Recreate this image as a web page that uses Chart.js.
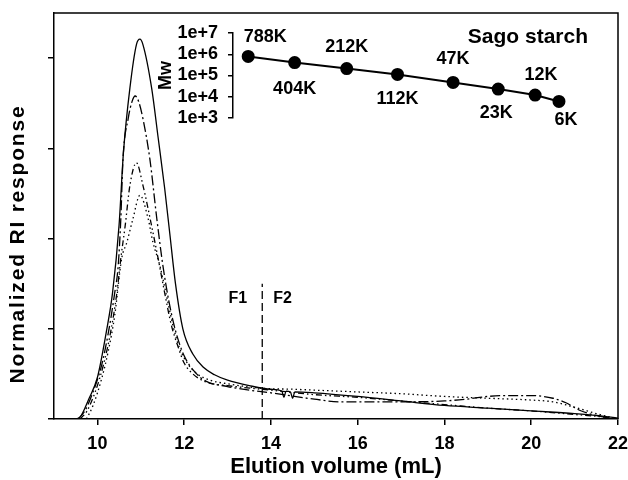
<!DOCTYPE html>
<html>
<head>
<meta charset="utf-8">
<script src="https://cdn.jsdelivr.net/npm/chart.js@4.4.1/dist/chart.umd.min.js"></script>
<style>
    body { margin: 0; background: #fff; }
    #wrap { position: relative; width: 628px; height: 480px; }
    #inset { position: absolute; left: 0; top: 0; pointer-events: none; }
</style>
</head>
<body>
<div id="wrap">
    <canvas id="main" width="628" height="480"></canvas>
    <canvas id="inset" width="628" height="140"></canvas>
</div>
<script>
/* RI traces (elution volume in mL, normalized response) */
const solidX = [9.5, 9.6, 9.8, 10.0, 10.2, 10.35, 10.5, 10.6, 10.75, 10.9, 10.98, 11.05, 11.25, 11.4, 11.55, 11.67, 11.8, 11.97, 12.2, 12.45, 12.7, 13.0, 13.5, 14.0, 14.25, 14.3, 14.35, 14.45, 14.5, 14.55, 15.0, 16.0, 17.0, 18.0, 19.0, 20.0, 21.0, 21.5, 22.0];
const solidY = [0, 0.02, 0.22, 0.46, 0.95, 1.4, 2.15, 2.95, 3.67, 4.15, 4.21, 4.15, 3.67, 3.12, 2.56, 2.05, 1.5, 1.0, 0.72, 0.57, 0.49, 0.43, 0.37, 0.33, 0.31, 0.24, 0.31, 0.30, 0.23, 0.30, 0.29, 0.25, 0.2, 0.15, 0.12, 0.09, 0.06, 0.04, 0.01];

const dashDotX = [9.55, 9.7, 9.9, 10.1, 10.25, 10.4, 10.48, 10.54, 10.59, 10.71, 10.8, 10.87, 10.95, 11.05, 11.21, 11.37, 11.51, 11.65, 11.8, 12.0, 12.25, 12.5, 13.0, 13.5, 14.0, 15.0, 15.6, 16.0, 17.0, 18.0, 18.5, 19.0, 19.5, 20.0, 20.5, 20.8, 21.1, 21.4, 21.7, 22.0];
const dashDotY = [0, 0.08, 0.3, 0.6, 0.95, 1.4, 1.7, 2.22, 2.88, 3.33, 3.52, 3.58, 3.52, 3.33, 2.88, 2.22, 1.7, 1.3, 0.98, 0.7, 0.52, 0.42, 0.36, 0.32, 0.29, 0.22, 0.19, 0.19, 0.19, 0.2, 0.22, 0.25, 0.26, 0.26, 0.23, 0.18, 0.1, 0.05, 0.02, 0];

const dashDotDotX = [9.6, 9.75, 9.95, 10.15, 10.3, 10.45, 10.54, 10.64, 10.75, 10.9, 11.05, 11.25, 11.4, 11.55, 11.7, 11.86, 12.0, 12.2, 12.5, 13.0, 14.0, 15.0, 16.0, 17.0, 18.0, 19.0, 20.0, 21.0, 21.5, 22.0];
const dashDotDotY = [0, 0.08, 0.3, 0.62, 0.95, 1.4, 1.78, 2.14, 2.59, 2.84, 2.59, 2.14, 1.78, 1.4, 1.05, 0.8, 0.62, 0.5, 0.41, 0.37, 0.32, 0.27, 0.24, 0.2, 0.16, 0.12, 0.09, 0.05, 0.03, 0];

const dottedX = [9.75, 9.9, 10.1, 10.25, 10.4, 10.56, 10.68, 10.82, 10.98, 11.17, 11.28, 11.44, 11.6, 11.75, 11.9, 12.1, 12.3, 12.6, 13.0, 13.8, 14.5, 15.0, 16.0, 17.0, 18.0, 19.0, 20.0, 20.5, 21.0, 21.5, 21.9];
const dottedY = [0, 0.15, 0.45, 0.75, 1.15, 1.78, 1.96, 2.22, 2.48, 2.22, 1.96, 1.7, 1.35, 1.02, 0.78, 0.6, 0.5, 0.43, 0.39, 0.34, 0.33, 0.32, 0.30, 0.28, 0.25, 0.23, 0.21, 0.19, 0.13, 0.06, 0.01];

const xTicks = [10, 12, 14, 16, 18, 20, 22];
const yTicks = [0, 1, 2, 3, 4];

// F1 / F2 split
const splitX = 13.8;
const splitTop = 1.5;

/* Inset: Mw of the standards vs elution volume */
const stdLabels = ['788K', '404K', '212K', '112K', '47K', '23K', '12K', '6K'];
const stdVolume = [13.48, 14.55, 15.75, 16.92, 18.2, 19.24, 20.09, 20.64];
const stdMw = [788000, 404000, 212000, 112000, 47000, 23000, 12000, 6000];
const mwTicks = [1e3, 1e4, 1e5, 1e6, 1e7];

// where each standard label sits relative to its dot (px)
const labelDx = [17, 0, 0, 0, 0, -2, 6, 7];
const labelDy = [-19, 26, -22, 25, -23, 24, -20, 19];

const FONT = '"Liberation Sans", Arial, Helvetica, sans-serif';
Chart.defaults.font.family = FONT;
Chart.defaults.color = '#000';

function pts(xs, ys) {
    return xs.map((x, i) => ({ x: x, y: ys[i] }));
}

function trace(xs, ys, dash) {
    return {
        data: pts(xs, ys),
        borderColor: '#000',
        borderWidth: 1.3,
        borderDash: dash,
        pointRadius: 0,
        cubicInterpolationMode: 'monotone',
        fill: false
    };
}

const mainDecor = {
    id: 'mainDecor',
    afterDraw(chart) {
        const ctx = chart.ctx;
        const a = chart.chartArea;
        ctx.save();
        // top and right frame
        ctx.strokeStyle = '#000';
        ctx.lineWidth = 1.5;
        ctx.beginPath();
        ctx.moveTo(a.left, a.top);
        ctx.lineTo(a.right, a.top);
        ctx.lineTo(a.right, a.bottom);
        ctx.stroke();

        // F1 / F2
        const xs = chart.scales.x.getPixelForValue(splitX);
        const ys = chart.scales.y.getPixelForValue(1.33);
        ctx.fillStyle = '#000';
        ctx.font = 'bold 16px ' + FONT;
        ctx.textBaseline = 'middle';
        ctx.textAlign = 'right';
        ctx.fillText('F1', xs - 15, ys);
        ctx.textAlign = 'left';
        ctx.fillText('F2', xs + 11, ys);

        // y title
        ctx.translate(18, (a.top + a.bottom) / 2 + 28);
        ctx.rotate(-Math.PI / 2);
        ctx.font = 'bold 21px ' + FONT;
        ctx.letterSpacing = '1.8px';
        ctx.textAlign = 'center';
        ctx.fillText('Normalized RI response', 0, 0);
        ctx.restore();
    }
};

new Chart(document.getElementById('main'), {
    type: 'line',
    data: {
        datasets: [
            trace(solidX, solidY, []),
            trace(dashDotX, dashDotY, [10, 3, 2, 3]),
            trace(dashDotDotX, dashDotDotY, [6, 3, 1.5, 3, 1.5, 3]),
            trace(dottedX, dottedY, [1.5, 3]),
            {
                data: [{ x: splitX, y: 0 }, { x: splitX, y: splitTop }],
                borderColor: '#000',
                borderWidth: 1.3,
                borderDash: [8, 4],
                pointRadius: 0
            }
        ]
    },
    options: {
        responsive: false,
        animation: false,
        layout: { padding: { top: 13, right: 10, left: 0, bottom: 0 } },
        plugins: { legend: { display: false }, tooltip: { enabled: false } },
        scales: {
            x: {
                type: 'linear',
                min: 9,
                max: 22,
                afterBuildTicks: s => { s.ticks = xTicks.map(v => ({ value: v })); },
                afterFit: s => { s.height = 61; s.paddingLeft = 0; s.paddingRight = 0; },
                ticks: { font: { size: 18, weight: 'bold' }, padding: 8, maxRotation: 0, autoSkip: false },
                grid: { drawOnChartArea: false, tickLength: 6, color: '#000', lineWidth: 1.5 },
                border: { color: '#000', width: 1.5 },
                title: {
                    display: true,
                    text: 'Elution volume (mL)',
                    font: { size: 22, weight: 'bold' },
                    padding: { top: 0, bottom: 0 }
                }
            },
            y: {
                min: 0,
                max: 4.5,
                afterBuildTicks: s => { s.ticks = yTicks.map(v => ({ value: v })); },
                afterFit: s => { s.width = 54; },
                ticks: { display: false },
                grid: { drawOnChartArea: false, tickLength: 6, color: '#000', lineWidth: 1.5 },
                border: { color: '#000', width: 1.5 }
            }
        }
    },
    plugins: [mainDecor]
});

const insetDecor = {
    id: 'insetDecor',
    afterDatasetsDraw(chart) {
        const ctx = chart.ctx;
        const meta = chart.getDatasetMeta(0);
        ctx.save();
        ctx.fillStyle = '#000';
        ctx.font = 'bold 18px ' + FONT;
        ctx.textAlign = 'center';
        ctx.textBaseline = 'middle';
        meta.data.forEach((p, i) => {
            ctx.fillText(stdLabels[i], p.x + labelDx[i], p.y + labelDy[i]);
        });
        ctx.font = 'bold 21px ' + FONT;
        ctx.textAlign = 'right';
        ctx.fillText('Sago starch', chart.chartArea.right - 30, 37);
        ctx.restore();
    }
};

new Chart(document.getElementById('inset'), {
    type: 'line',
    data: {
        datasets: [{
            data: pts(stdVolume, stdMw),
            borderColor: '#000',
            borderWidth: 2,
            pointRadius: 5.5,
            pointBackgroundColor: '#000',
            pointBorderColor: '#000',
            tension: 0
        }]
    },
    options: {
        responsive: false,
        animation: false,
        layout: { padding: { top: 33, right: 10, left: 150, bottom: 22 } },
        plugins: { legend: { display: false }, tooltip: { enabled: false } },
        scales: {
            x: { type: 'linear', display: false, min: 13.13, max: 22 },
            y: {
                type: 'logarithmic',
                min: 1e3,
                max: 1e7,
                afterBuildTicks: s => { s.ticks = mwTicks.map(v => ({ value: v })); },
                afterFit: s => { s.width = 83; },
                ticks: {
                    font: { size: 18, weight: 'bold' },
                    padding: 10,
                    autoSkip: false,
                    callback: v => Number(v).toExponential()
                },
                grid: { drawOnChartArea: false, tickLength: 5, color: '#000', lineWidth: 1.5 },
                border: { color: '#000', width: 1.5 },
                title: {
                    display: true,
                    text: 'Mw',
                    font: { size: 18, weight: 'bold' },
                    padding: { top: 5, bottom: 0 }
                }
            }
        }
    },
    plugins: [insetDecor]
});
</script>
</body>
</html>
